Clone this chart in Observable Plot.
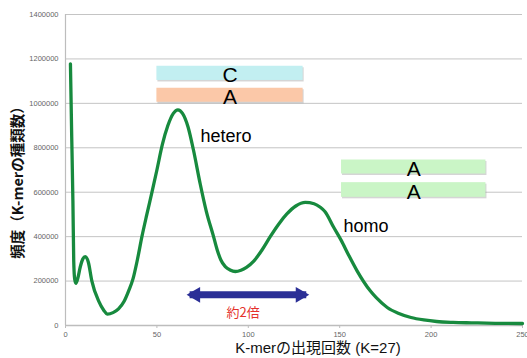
<!DOCTYPE html>
<html><head><meta charset="utf-8">
<script src="https://cdn.jsdelivr.net/npm/d3@7"></script>
<script src="https://cdn.jsdelivr.net/npm/@observablehq/plot@0.6"></script>
<style>body{margin:0;background:#fff;} svg{display:block;}</style>
</head><body><div id="chart"></div>
<script>
const counts = [2.7, 3.4, 4.05, 4.5, 5.0, 5.7, 6.8, 8.0, 9.5, 10.8, 12.5, 14.4, 18.1, 21, 23, 26, 29, 32, 34.5, 37, 39.3, 41.8, 44.5, 47.3, 50, 53, 56, 59, 61.5, 64, 67, 70, 73.7, 77, 81, 83, 85, 87.4, 90, 92.9, 96, 99, 103, 107.5, 112, 116.5, 121.1, 126, 131.2, 136, 139.4, 142, 146.7, 150.9, 155, 159.5, 166.7, 170, 176, 182, 189, 196, 203, 212, 222, 235, 250];
const freqs  = [1178000, 850000, 562000, 290000, 210000, 190000, 215000, 261000, 300000, 310000, 285000, 201000, 111000, 68000, 51000, 58000, 75000, 108000, 155000, 212000, 295000, 400000, 500000, 600000, 700000, 815000, 900000, 955000, 971000, 955000, 895000, 790000, 637000, 515000, 400000, 340000, 295000, 265000, 250000, 243000, 249000, 262000, 290000, 340000, 400000, 455000, 502000, 538000, 554000, 548000, 532000, 512000, 442000, 382000, 315000, 246000, 156000, 125000, 81000, 55000, 36000, 25000, 18000, 14000, 12000, 10000, 9000];
const yTicks = [0, 200000, 400000, 600000, 800000, 1000000, 1200000, 1400000];
const xTicks = [0, 50, 100, 150, 200, 250];
const boxLabels = ["C", "A", "A", "A"];
const boxX1 = [50, 50, 151, 151];
const boxX2 = [130, 130, 230, 230];
const boxY1 = [1103000, 1005000, 682000, 577000];
const boxY2 = [1167000, 1068000, 745000, 643000];
const boxColors = ["#c2eff1", "#fbc8a8", "#caf5c6", "#caf5c6"];
const peakLabels = ["hetero", "homo"];
const peakX = [73.8, 152.1];
const peakY = [828000, 422000];
const arrowX = [67.9, 131.7];
const arrowY = 138000;
const arrowLabel = "約2倍";
const xLabel = "K-merの出現回数 (K=27)";
const yLabel = "頻度（K-merの種類数）";

const curve = counts.map((k, i) => ({k, f: freqs[i]}));
const boxes = boxLabels.map((t, i) => ({t, x1: boxX1[i], x2: boxX2[i], y1: boxY1[i], y2: boxY2[i], c: boxColors[i], ym: (boxY1[i] + boxY2[i]) / 2}));
const peaks = peakLabels.map((t, i) => ({t, x: peakX[i], y: peakY[i]}));
const FONT = "'Liberation Sans', 'Noto Sans CJK JP', sans-serif";

const chart = Plot.plot({
  width: 527, height: 358,
  marginLeft: 65, marginRight: 5, marginTop: 14, marginBottom: 33,
  style: {fontFamily: FONT, background: "#fff", overflow: "visible"},
  x: {domain: [0, 250], ticks: xTicks},
  y: {domain: [0, 1400000], ticks: yTicks},
  marks: [
    Plot.gridY(yTicks, {stroke: "#c4c4c4", strokeOpacity: 1, strokeWidth: 1}),
    Plot.ruleX([0], {stroke: "#bdbdbd", strokeWidth: 1.2}),
    Plot.ruleY([0], {stroke: "#bdbdbd", strokeWidth: 1.5}),
    Plot.axisY(yTicks, {tickSize: 0, tickPadding: 7, tickFormat: d => String(d), fontSize: 7.5, fill: "#666", label: null}),
    Plot.axisX(xTicks, {tickSize: 3, tickPadding: 3, stroke: "#bdbdbd", fontSize: 7.5, fill: "#666", label: null}),
    Plot.rect(boxes, {x1: "x1", x2: "x2", y1: "y1", y2: "y2", fill: "#888", fillOpacity: 0.35, dx: 1, dy: 1.5}),
    Plot.rect(boxes, {x1: "x1", x2: "x2", y1: "y1", y2: "y2", fill: "c"}),
    Plot.line(curve, {x: "k", y: "f", stroke: "#178a3e", strokeWidth: 3.3, curve: "monotone-x"}),
    Plot.text(boxes, {x: d => (d.x1 + d.x2) / 2, y: "ym", text: "t", fontSize: 21, fill: "#000", dy: 2, lineAnchor: "middle"}),
    Plot.text(peaks, {x: "x", y: "y", text: "t", fontSize: 18, fill: "#000", textAnchor: "start", lineAnchor: "bottom"}),
    Plot.link([{x1: arrowX[0], x2: arrowX[1]}], {x1: "x1", x2: "x2", y1: () => arrowY, y2: () => arrowY, stroke: "#2b2f96", strokeWidth: 7}),
    Plot.dot([arrowX[1]], {x: d => d, y: () => arrowY, symbol: "triangle", r: 5.8, fill: "#2b2f96", stroke: "none", rotate: 90, dx: -6}),
    Plot.dot([arrowX[0]], {x: d => d, y: () => arrowY, symbol: "triangle", r: 5.8, fill: "#2b2f96", stroke: "none", rotate: -90, dx: 6}),
    Plot.text([arrowLabel], {x: () => 97.2, y: () => 39000, text: d => d, fontSize: 13, fill: "#e4312b", lineAnchor: "bottom", fontFamily: "'Noto Sans CJK JP', sans-serif"}),
    Plot.text([xLabel], {frameAnchor: "bottom", text: d => d, dx: 24, dy: 27, fontSize: 15, fill: "#111", lineAnchor: "bottom", fontFamily: "'Liberation Sans', 'Noto Sans CJK JP', sans-serif"}),
    Plot.text([yLabel], {frameAnchor: "left", textAnchor: "middle", text: d => d, rotate: -90, dx: -47, dy: 9, fontSize: 14.5, fill: "#111", fontWeight: "bold", lineAnchor: "middle", fontFamily: "'Noto Sans CJK JP', sans-serif"})
  ]
});
document.getElementById("chart").appendChild(chart);
</script>
</body></html>
